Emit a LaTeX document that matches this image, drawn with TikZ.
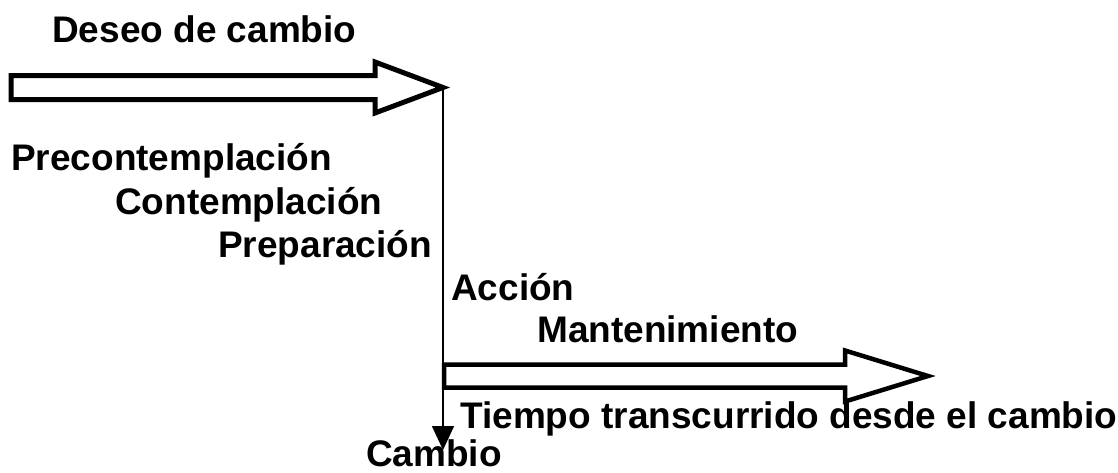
\documentclass[tikz,border=0pt]{standalone}
\usepackage{fontspec}
\setmainfont{Liberation Sans}
\usetikzlibrary{arrows.meta}
\begin{document}
\begin{tikzpicture}[x=1pt,y=-1pt,
		lbl/.style={anchor=base west,inner sep=0pt,font=\fontsize{37}{44}\selectfont\bfseries},
		bigarrow/.style={draw,line width=5pt,miter limit=20,fill=white}]
	\useasboundingbox (0,0) rectangle (1118,472);
	% arrow of the wish to change
	\draw[bigarrow] (11,75.5) -- (375,75.5) -- (375,62) -- (443,87.5) -- (375,113) -- (375,99.5) -- (11,99.5) -- cycle;
	\coordinate (tip) at (443,87.5);
	% arrow of the time after the change
	\draw[bigarrow,line width=4.5pt] (444,364.5) -- (845,364.5) -- (845,350.5) -- (928,376) -- (845,401.5) -- (845,387.5) -- (444,387.5) -- cycle;
	\coordinate (change) at (443,450);
	\draw[line width=1.5pt,-{Triangle[width=22pt,length=24pt]}] (tip) -- (change);
	\node[lbl] (wish) at (52,42) {Deseo de cambio};
	\node[lbl] (pre) at (11,170) {Precontemplación};
	\node[lbl] (contem) at (115,214) {Contemplación};
	\node[lbl] (prep) at (218,257) {Preparación};
	\node[lbl] (act) at (451,300) {Acción};
	\node[lbl] (mant) at (537,342) {Mantenimiento};
	\node[lbl] (time) at (460,428) {Tiempo transcurrido desde el cambio};
	\node[lbl] (cambio) at (366,466) {Cambio};
\end{tikzpicture}
\end{document}
